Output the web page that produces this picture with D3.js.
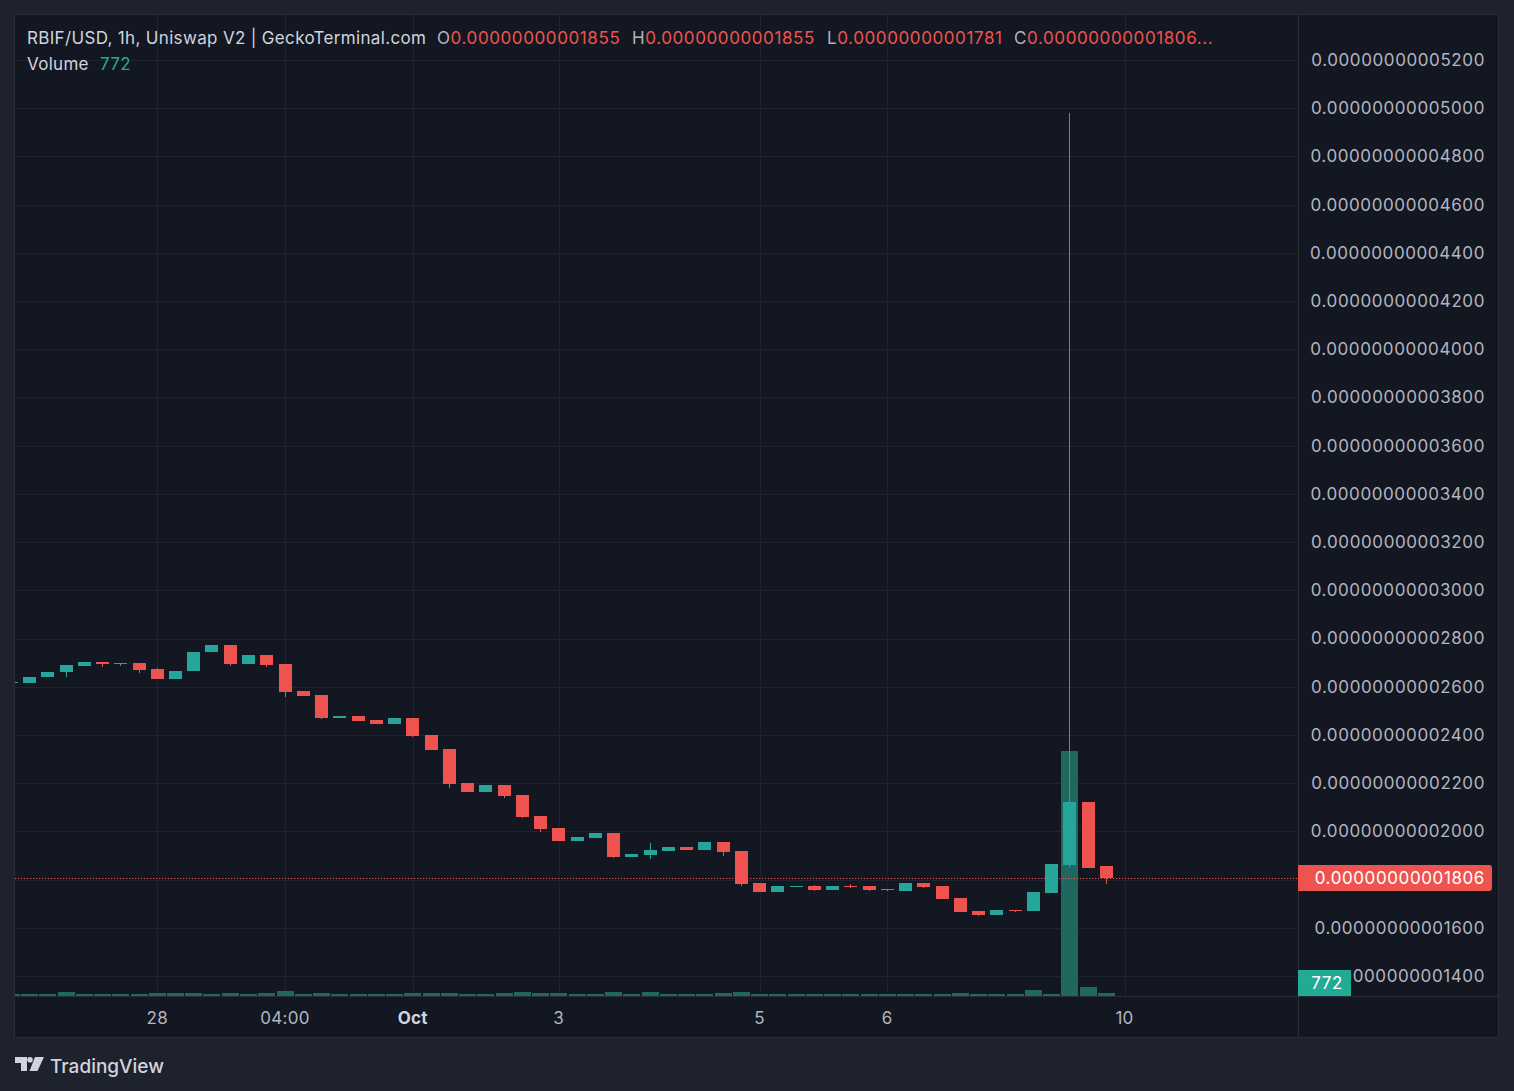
<!DOCTYPE html>
<html>
<head>
<meta charset="utf-8">
<script src="https://cdn.jsdelivr.net/npm/d3@7"></script>
<style>
  html, body { margin: 0; padding: 0; background: #1e222d; }
  svg { display: block; font-family: Inter, "Noto Sans", Roboto, sans-serif; }
</style>
</head>
<body>
<svg id="chart" width="1514" height="1091"></svg>
<script>
// ---------- DATA (prices in units of 1e-14 USD) ----------
const PRICE_UNIT = 1e-14;
const opens  = [2615,2615,2640,2660,2688,2702,2695,2698,2673,2632,2665,2744,2773,2694,2731,2694,2582,2565,2470,2478,2462,2445,2470,2399,2341,2200,2163,2192,2150,2063,2014,1960,1972,1993,1893,1902,1918,1935,1922,1956,1918,1785,1748,1769,1773,1757,1773,1773,1761,1752,1785,1773,1723,1669,1653,1673,1669,1744,1860,2121,1855];
const highs  = [2620,2640,2661,2690,2702,2702,2699,2698,2677,2665,2744,2773,2773,2731,2731,2694,2582,2565,2478,2478,2462,2470,2470,2399,2341,2200,2192,2192,2150,2063,2014,1976,1993,1993,1906,1951,1935,1935,1956,1956,1918,1785,1773,1773,1777,1773,1781,1773,1761,1785,1785,1773,1723,1669,1673,1673,1748,1864,4980,2121,1855];
const lows   = [2615,2615,2640,2642,2688,2682,2686,2657,2632,2632,2665,2744,2686,2694,2682,2557,2561,2466,2470,2458,2445,2445,2391,2337,2180,2163,2163,2138,2055,1997,1960,1960,1972,1889,1893,1885,1918,1922,1922,1897,1773,1748,1748,1769,1752,1757,1765,1752,1752,1752,1765,1719,1665,1649,1653,1665,1669,1744,1848,1848,1781];
const closes = [2620,2640,2661,2690,2702,2694,2699,2669,2632,2665,2744,2773,2694,2731,2690,2578,2561,2470,2478,2458,2445,2470,2395,2337,2196,2163,2192,2146,2059,2010,1960,1976,1993,1893,1906,1922,1935,1922,1956,1914,1781,1748,1773,1773,1757,1773,1769,1757,1757,1785,1769,1719,1665,1653,1673,1669,1748,1864,2121,1848,1806];
const volumes = [515,515,515,1030,515,515,515,515,770,770,770,515,770,515,770,1290,515,770,515,515,515,515,770,770,770,515,515,770,1030,770,770,515,515,1030,515,1030,515,515,515,770,1030,515,515,515,515,515,515,515,515,515,515,515,770,515,515,515,1545,515,63000,2320,772];

const priceTicks = [1400,1600,1800,2000,2200,2400,2600,2800,3000,3200,3400,3600,3800,4000,4200,4400,4600,4800,5000,5200];
const timeTickIndex  = [8, 15, 22, 30, 41, 48, 61];
const timeTickLabels = ["28", "04:00", "Oct", "3", "5", "6", "10"];
const timeTickBold   = [false, false, true, false, false, false, false];

const symbolText = "RBIF/USD, 1h, Uniswap V2 | GeckoTerminal.com";

// ---------- LAYOUT ----------
const W = 1514, H = 1091;
const pane = { left: 15, right: 1298, top: 15, bottom: 996 };
const axisRight = 1498, axisBottom = 1037;
const UP = "#26a69a", DOWN = "#ef5350", VOL = "#1f675f";
const TEXT = "#b2b5be", GRID = "#1f2330", BORDER = "#2a2e39";
const NUM_LS = "0.6";
const fmt = v => (v * PRICE_UNIT).toFixed(14);

const svg = d3.select("#chart");

// backgrounds
svg.append("rect").attr("width", W).attr("height", H).attr("fill", "#1e222d");
svg.append("rect").attr("x", pane.left).attr("y", pane.top)
   .attr("width", axisRight - pane.left).attr("height", axisBottom - pane.top)
   .attr("fill", "#131722");

// scales
const x = d3.scaleLinear().domain([0, 60]).range([11.25, 1106.25]);
const y = d3.scaleLinear().domain([1400, 5200]).range([976, 60]);
const yv = d3.scaleLinear().domain([0, d3.max(volumes)]).range([pane.bottom, 751]);

// clips
const defs = svg.append("defs");
defs.append("clipPath").attr("id", "paneClip").append("rect")
   .attr("x", pane.left).attr("y", pane.top)
   .attr("width", pane.right - pane.left).attr("height", pane.bottom - pane.top);

const g = svg.append("g").attr("clip-path", "url(#paneClip)");

// grid
g.append("g").selectAll("line").data(priceTicks).join("line")
  .attr("x1", pane.left).attr("x2", pane.right)
  .attr("y1", d => Math.round(y(d)) + 0.5).attr("y2", d => Math.round(y(d)) + 0.5)
  .attr("stroke", GRID).attr("stroke-width", 1);
g.append("g").selectAll("line").data(timeTickIndex).join("line")
  .attr("x1", d => Math.round(x(d)) + 0.5).attr("x2", d => Math.round(x(d)) + 0.5)
  .attr("y1", pane.top).attr("y2", pane.bottom)
  .attr("stroke", GRID).attr("stroke-width", 1);

const idx = d3.range(opens.length);

// volume bars
g.append("g").selectAll("rect").data(idx).join("rect")
  .attr("x", i => Math.round(x(i) - 8.5))
  .attr("width", 17)
  .attr("y", i => Math.round(yv(volumes[i])))
  .attr("height", i => pane.bottom - Math.round(yv(volumes[i])))
  .attr("fill", VOL);

// current price dotted line
g.append("line")
  .attr("x1", pane.left).attr("x2", pane.right)
  .attr("y1", Math.round(y(closes[closes.length - 1])) + 0.5)
  .attr("y2", Math.round(y(closes[closes.length - 1])) + 0.5)
  .attr("stroke", DOWN).attr("stroke-width", 1).attr("stroke-dasharray", "1.2 1.8");

// candles
const cg = g.append("g");
const col = i => closes[i] >= opens[i] ? UP : DOWN;
cg.selectAll("rect.wick").data(idx).join("rect").attr("class", "wick")
  .attr("x", i => Math.round(x(i) - 6.5) + 6)
  .attr("width", 1)
  .attr("y", i => Math.round(y(highs[i])))
  .attr("height", i => Math.max(1, Math.round(y(lows[i])) - Math.round(y(highs[i]))))
  .attr("fill", col);
cg.selectAll("rect.body").data(idx).join("rect").attr("class", "body")
  .attr("x", i => Math.round(x(i) - 6.5))
  .attr("width", 13)
  .attr("y", i => Math.round(y(Math.max(opens[i], closes[i]))))
  .attr("height", i => Math.max(1, Math.round(y(Math.min(opens[i], closes[i]))) - Math.round(y(Math.max(opens[i], closes[i])))))
  .attr("fill", col);

// borders / separators
svg.append("line").attr("x1", pane.right + 0.5).attr("x2", pane.right + 0.5)
   .attr("y1", pane.top).attr("y2", axisBottom).attr("stroke", BORDER);
svg.append("line").attr("x1", pane.left).attr("x2", axisRight)
   .attr("y1", pane.bottom + 0.5).attr("y2", pane.bottom + 0.5).attr("stroke", BORDER);
svg.append("rect").attr("x", pane.left - 0.5).attr("y", pane.top - 0.5)
   .attr("width", axisRight - pane.left + 1).attr("height", axisBottom - pane.top + 1)
   .attr("fill", "none").attr("stroke", BORDER);

// price axis labels (the lowest one is partly hidden by the volume label, as in the reference)
const volBox = { x: pane.right, y: pane.bottom - 26, w: 53, h: 26 };
defs.append("clipPath").attr("id", "lowLabelClip").append("rect")
   .attr("x", volBox.x + volBox.w).attr("y", pane.top).attr("width", axisRight - volBox.x - volBox.w).attr("height", pane.bottom - pane.top);
const pa = svg.append("g").attr("font-size", 17).attr("fill", TEXT).attr("text-anchor", "end");
pa.selectAll("text").data(priceTicks).join("text")
  .attr("x", 1485).attr("y", d => y(d)).attr("dy", "0.35em")
  .attr("letter-spacing", NUM_LS)
  .attr("clip-path", d => y(d) > volBox.y - 10 ? "url(#lowLabelClip)" : null)
  .text(fmt);

// current price label
const lastY = Math.round(y(closes[closes.length - 1]));
svg.append("path")
  .attr("d", `M${pane.right},${lastY - 13} H1489 a3,3 0 0 1 3,3 V${lastY + 10} a3,3 0 0 1 -3,3 H${pane.right} Z`)
  .attr("fill", DOWN);
svg.append("text").attr("x", 1485).attr("y", lastY).attr("dy", "0.35em")
  .attr("text-anchor", "end").attr("font-size", 17).attr("fill", "#ffffff")
  .attr("letter-spacing", NUM_LS)
  .text(fmt(closes[closes.length - 1]));

// volume label
svg.append("rect").attr("x", volBox.x).attr("y", volBox.y)
   .attr("width", volBox.w).attr("height", volBox.h).attr("fill", "#22ab94");
svg.append("text").attr("x", volBox.x + 29).attr("y", volBox.y + 13).attr("dy", "0.35em")
   .attr("text-anchor", "middle").attr("font-size", 17).attr("fill", "#ffffff")
   .attr("letter-spacing", NUM_LS)
   .text(volumes[volumes.length - 1]);

// time axis labels
svg.append("g").selectAll("text").data(timeTickIndex).join("text")
  .attr("x", d => x(d)).attr("y", 1018).attr("dy", "0.35em")
  .attr("text-anchor", "middle").attr("font-size", 17)
  .attr("letter-spacing", "0.3")
  .attr("font-weight", (d, i) => timeTickBold[i] ? 700 : 400)
  .attr("fill", (d, i) => timeTickBold[i] ? "#d1d4dc" : TEXT)
  .text((d, i) => timeTickLabels[i]);

// legend
const last = opens.length - 1;
const lg = svg.append("g").attr("font-size", 17);
lg.append("text").attr("x", 27).attr("y", 38).attr("dy", "0.35em")
  .attr("letter-spacing", "0.33").attr("fill", "#d1d4dc").text(symbolText);
const ohlc = [["O", opens[last], 437], ["H", highs[last], 632], ["L", lows[last], 827], ["C", closes[last], 1014]];
ohlc.forEach(([k, v, px], j) => {
  const t = lg.append("text").attr("x", px).attr("y", 38).attr("dy", "0.35em").attr("letter-spacing", NUM_LS);
  t.append("tspan").attr("fill", TEXT).text(k);
  t.append("tspan").attr("fill", DOWN).text(fmt(v) + (j === 3 ? "..." : ""));
});
const vt = lg.append("text").attr("x", 27).attr("y", 64).attr("dy", "0.35em").attr("letter-spacing", "0.3");
vt.append("tspan").attr("fill", "#d1d4dc").text("Volume");
vt.append("tspan").attr("fill", "#22ab94").attr("x", 100).text(volumes[last]);

// TradingView logo
const logo = svg.append("g").attr("fill", "#d1d4dc");
logo.append("path").attr("d", "M15,1057 H27 V1071 H21 V1063 H15 Z");
logo.append("circle").attr("cx", 30).attr("cy", 1059.8).attr("r", 2.8);
logo.append("path").attr("d", "M35,1057 H44 L37.5,1071 H29.5 Z");
svg.append("text").attr("x", 50).attr("y", 1066).attr("dy", "0.35em")
   .attr("font-size", 19).attr("font-weight", 500).attr("fill", "#d1d4dc").text("TradingView");
</script>
</body>
</html>
